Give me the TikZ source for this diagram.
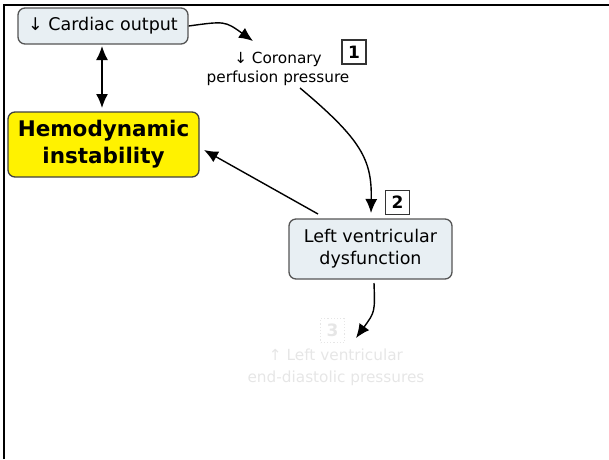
\documentclass[tikz,border=0pt]{standalone}
\usepackage{fontspec}
\setmainfont{DejaVu Sans}
\usetikzlibrary{arrows.meta}
\definecolor{boxfill}{HTML}{E8EFF3}
\definecolor{boxdraw}{HTML}{555555}
\definecolor{hemofill}{HTML}{FFF200}
\definecolor{faded}{HTML}{E6E6E6}
\tikzset{
  >={Latex[length=14pt,width=12pt]},
  pbox/.style={draw=boxdraw, line width=1.3pt, fill=boxfill, rounded corners=7pt, align=center, inner sep=0pt},
  numbox/.style={draw=black!80, line width=1.2pt, minimum width=24pt, minimum height=24pt, inner sep=0pt, font=\fontsize{17}{17}\selectfont\bfseries},
  conn/.style={line width=1.4pt, ->},
  dconn/.style={line width=1.4pt, <->},
}
\begin{document}
\begin{tikzpicture}[x=1pt,y=-1pt]
\useasboundingbox (0,0) rectangle (609,459);
\draw[line width=2.4pt, black] (4,459) -- (4,5) -- (609,5);
\node[pbox, minimum width=170pt, minimum height=36pt, font=\fontsize{17.5}{20}\selectfont] (co) at (103,26) {↓ Cardiac output};
\node[draw=black!75, line width=1.3pt, fill=hemofill, rounded corners=7pt, align=center, minimum width=191pt, minimum height=65pt, inner sep=0pt, font=\fontsize{21.5}{27}\selectfont\bfseries] (hemo) at (103.5,144.5) {Hemodynamic\\instability};
\node[align=center, inner sep=0pt, font=\fontsize{15.3}{19}\selectfont] (cpp) at (278,68.5) {↓ Coronary\\perfusion pressure};
\node[numbox] (b1) at (354,52) {1};
\node[pbox, minimum width=163pt, minimum height=60pt, font=\fontsize{17.5}{22}\selectfont] (lv) at (370.5,249) {Left ventricular\\dysfunction};
\node[numbox] (b2) at (397.5,202.5) {2};
\node[numbox, draw=faded, text=faded, dotted] (b3) at (332.5,330.5) {3};
\node[align=center, inner sep=0pt, text=faded, font=\fontsize{15.3}{22}\selectfont] (lvedp) at (336,367) {↑ Left ventricular\\end-diastolic pressures};
\coordinate (cppin) at (253,41);
\coordinate (cppout) at (300,88);
\coordinate (lvin) at (371,213);
\coordinate (lvout) at (318,214);
\coordinate (lvbot) at (374,283);
\coordinate (b3in) at (356,338);
\coordinate (hemoin) at (204,150);
\coordinate (dtop) at (102,46);
\coordinate (dbot) at (102,108);
\draw[conn] (co.east) .. controls (225,21) .. (cppin);
\draw[dconn] (dtop) -- (dbot);
\draw[conn] (cppout) .. controls (362,140) and (372,160) .. (lvin);
\draw[conn] (lvout) -- (hemoin);
\draw[conn] (lvbot) .. controls (375,312) .. (b3in);
\end{tikzpicture}
\end{document}
